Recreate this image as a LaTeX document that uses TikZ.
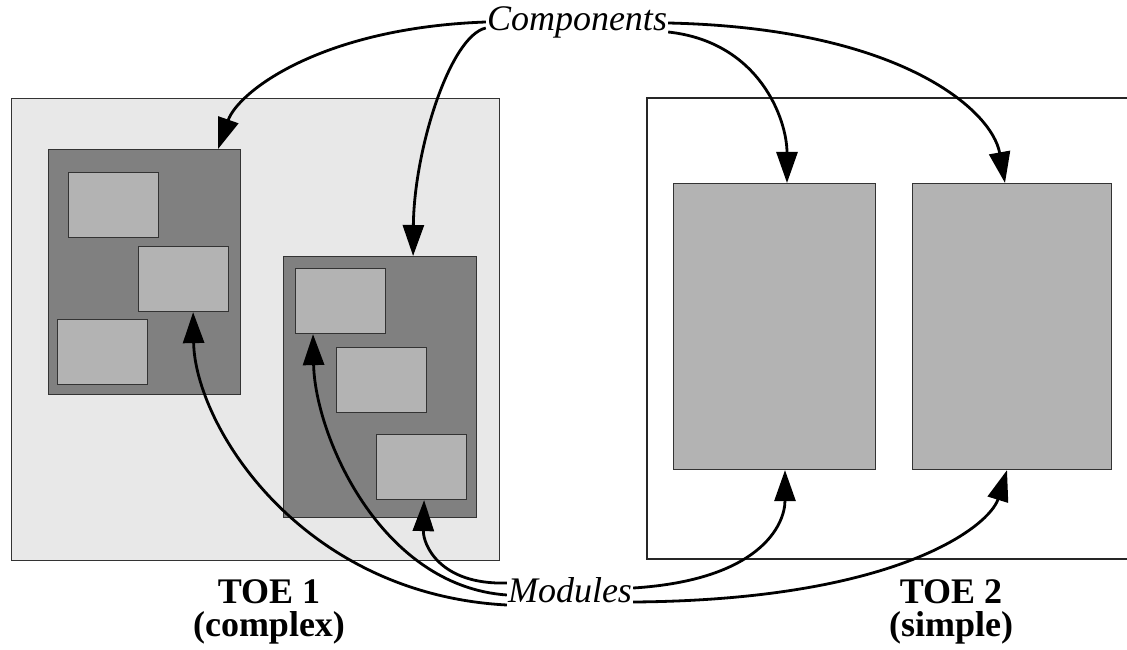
\documentclass[tikz,border=0pt]{standalone}
\usepackage{fontspec}
\setmainfont{Liberation Serif}
\usetikzlibrary{arrows.meta}
\definecolor{toeone}{HTML}{E8E8E8}
\definecolor{compdark}{HTML}{808080}
\definecolor{modgray}{HTML}{B3B3B3}
\tikzset{
  box/.style={rectangle, draw=black!80, line width=1.1pt, anchor=north west, inner sep=0pt},
  toebox/.style={box, fill=toeone},
  compbox/.style={box, fill=compdark},
  modbox/.style={box, fill=modgray},
  bigmod/.style={box, fill=modgray},
  lbl/.style={font=\itshape\fontsize{36}{38}\selectfont, inner sep=1pt},
  toelbl/.style={font=\bfseries\fontsize{36}{33}\selectfont, align=center, inner sep=0pt},
  conn/.style={line width=2.8pt, -{Triangle[length=31pt,width=21pt]}},
}
\begin{document}
\begin{tikzpicture}[x=1pt,y=-1pt]
\useasboundingbox (0,0) rectangle (1127,650);
% TOE 1
\node[toebox, minimum width=488pt, minimum height=462pt] (toe1) at (11,98) {};
\node[compbox, minimum width=192pt, minimum height=245pt] (ca) at (48,149) {};
\node[modbox, minimum width=90pt, minimum height=65pt] (a1) at (68,172) {};
\node[modbox, minimum width=90pt, minimum height=65pt] (a2) at (138,246) {};
\node[modbox, minimum width=90pt, minimum height=65pt] (a3) at (57,319) {};
\node[compbox, minimum width=193pt, minimum height=261pt] (cb) at (283,256) {};
\node[modbox, minimum width=90pt, minimum height=65pt] (b1) at (295,268) {};
\node[modbox, minimum width=90pt, minimum height=65pt] (b2) at (336,347) {};
\node[modbox, minimum width=90pt, minimum height=65pt] (b3) at (376,434) {};
% TOE 2
\coordinate (t2tl) at (647,98);
\coordinate (t2bl) at (647,559);
\coordinate (t2tr) at (1127,98);
\coordinate (t2br) at (1127,559);
\draw[black!85, line width=1.1pt] (t2tr) -- (t2tl) -- (t2bl) -- (t2br);
\node[bigmod, minimum width=202pt, minimum height=286pt] (cc) at (673,183) {};
\node[bigmod, minimum width=199pt, minimum height=286pt] (cd) at (912,183) {};
% labels
\node[lbl] (comp) at (577,22) {Components};
\node[lbl] (mods) at (570,590) {Modules};
\node[toelbl] (toe1lbl) at (269,612) {TOE 1\\(complex)};
\node[toelbl] (toe2lbl) at (951,612) {TOE 2\\(simple)};
% Components arrows
\draw[conn] ([yshift=0pt]comp.west) .. controls (320,28) and (238,92) .. ([xshift=-23pt]ca.north east);
\draw[conn] ([yshift=-6pt]comp.west) .. controls (450,36) and (414,150) .. ([xshift=-64pt]cb.north east);
\draw[conn] ([yshift=-10pt]comp.east) .. controls (760,42) and (787,120) .. ([xshift=114pt]cc.north west);
\draw[conn] ([yshift=-1pt]comp.east) .. controls (900,28) and (992,110) .. ([xshift=93pt]cd.north west);
% Modules arrows
\draw[conn] ([yshift=-15pt]mods.west) .. controls (300,594) and (195,425) .. ([xshift=-36pt]a2.south east);
\draw[conn] ([yshift=-5pt]mods.west) .. controls (380,586) and (315,435) .. ([xshift=18pt]b1.south west);
\draw[conn] ([yshift=7pt]mods.west) .. controls (440,585) and (423,545) .. ([xshift=-43pt]b3.south east);
\draw[conn] ([yshift=2pt]mods.east) .. controls (760,580) and (785,525) .. ([xshift=112pt]cc.south west);
\draw[conn] ([yshift=-12pt]mods.east) .. controls (900,600) and (990,525) .. ([xshift=95pt]cd.south west);
\end{tikzpicture}
\end{document}
